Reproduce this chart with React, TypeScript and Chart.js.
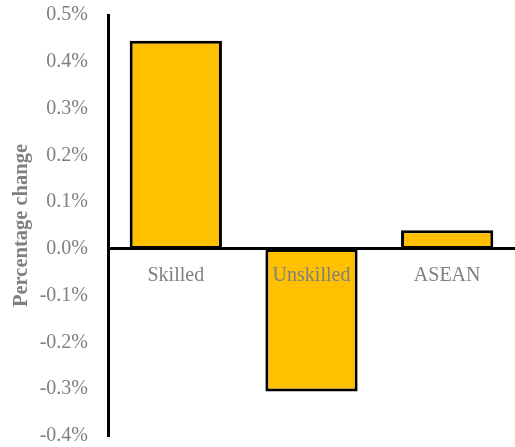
import React, { useEffect, useRef } from "react";
import { Chart, registerables } from "chart.js";

Chart.register(...registerables);

const categories = ["Skilled", "Unskilled", "ASEAN"];
const values = [0.445, -0.305, 0.04];
const yMin = -0.4;
const yMax = 0.5;
const yStep = 0.1;

export default function App() {
  const ref = useRef<HTMLCanvasElement | null>(null);
  useEffect(() => {
    if (!ref.current) return;
    const chart = new Chart(ref.current, {
      type: "bar",
      data: {
        labels: categories,
        datasets: [
          {
            data: values,
            backgroundColor: "#FFC000",
            borderColor: "#000000",
            borderWidth: 3,
            borderSkipped: false,
            categoryPercentage: 0.68,
            barPercentage: 1,
          },
        ],
      },
      options: {
        responsive: false,
        animation: false,
        devicePixelRatio: 1,
        layout: { padding: { top: 0, bottom: 0, right: 0, left: 9 } },
        plugins: { legend: { display: false }, tooltip: { enabled: false } },
        scales: {
          x: {
            position: { y: 0 } as any,
            grid: { display: false, drawTicks: false },
            border: { display: true, color: "#000", width: 3, z: 1 },
            ticks: {
              z: 1,
              color: "#808080",
              font: { family: "'Liberation Serif', 'Times New Roman', serif", size: 20 },
              padding: 15,
            },
            afterFit: (s: any) => {
              s.height = 0;
            },
          },
          y: {
            min: yMin,
            max: yMax,
            grid: { display: false, drawTicks: false },
            border: { display: true, color: "#000", width: 3 },
            ticks: {
              stepSize: yStep,
              color: "#808080",
              padding: 20,
              font: { family: "'Liberation Serif', 'Times New Roman', serif", size: 20 },
              callback: (v: any) => Number(v).toFixed(1) + "%",
            },
            title: {
              display: true,
              text: "Percentage change",
              color: "#808080",
              padding: { top: 0, bottom: 0 },
              font: { family: "'Liberation Serif', 'Times New Roman', serif", size: 20.5, weight: "bold" },
            },
            afterFit: (s: any) => {
              s.width = 99;
              s.paddingTop = 15;
              s.paddingBottom = 11;
            },
          },
        },
      },
    });
    return () => chart.destroy();
  }, []);
  return (
    <div style={{ position: "absolute", left: 0, top: 0, width: 515, height: 447, background: "#fff" }}>
      <canvas ref={ref} width={515} height={447} />
    </div>
  );
}
